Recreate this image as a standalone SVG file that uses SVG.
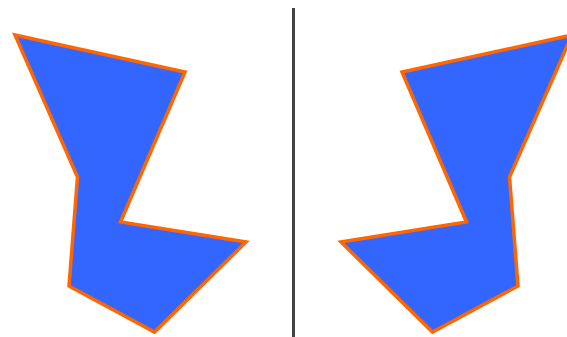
<svg xmlns="http://www.w3.org/2000/svg" width="567" height="337" viewBox="0 0 567 337">
<style>
.shape{fill:#3366ff;stroke:#ff6600;stroke-width:3.5;stroke-linejoin:miter}
.axis{stroke:#444444;stroke-width:3}
</style>
<rect width="567" height="337" fill="#ffffff"/>
<g id="left-shape">
<polygon class="shape" points="15,35 185,72 120.5,222 246,242 154.5,332 69,286 77.5,177"/>
</g>
<g id="right-shape">
<polygon class="shape" points="572,35 402,72 466.5,222 341,242 432.5,332 518,286 509.5,177"/>
</g>
<g id="connectors">
<line class="axis" x1="293.5" y1="8" x2="293.5" y2="337"/>
</g>
</svg>
